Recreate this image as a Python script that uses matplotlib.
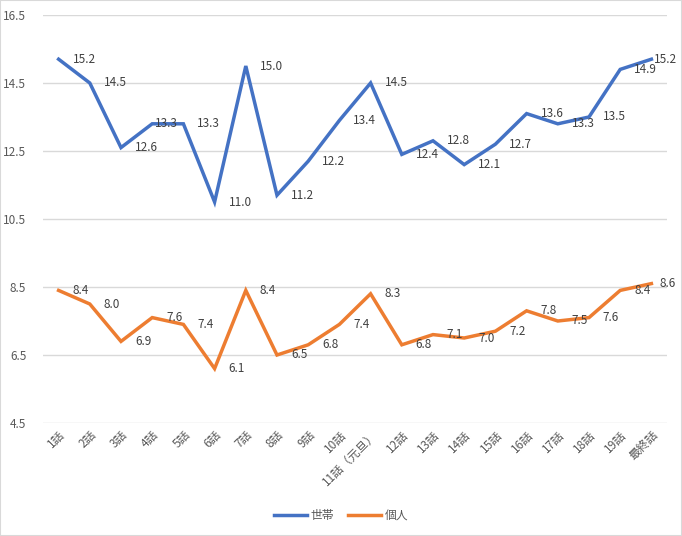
import matplotlib.pyplot as plt
from matplotlib.patches import Rectangle

plt.rcParams['font.family'] = ['Noto Sans CJK JP', 'DejaVu Sans']

episodes = ["1話", "2話", "3話", "4話", "5話", "6話", "7話", "8話", "9話", "10話",
            "11話（元旦）", "12話", "13話", "14話", "15話", "16話", "17話", "18話", "19話", "最終話"]
household = [15.2, 14.5, 12.6, 13.3, 13.3, 11.0, 15.0, 11.2, 12.2, 13.4,
             14.5, 12.4, 12.8, 12.1, 12.7, 13.6, 13.3, 13.5, 14.9, 15.2]
individual = [8.4, 8.0, 6.9, 7.6, 7.4, 6.1, 8.4, 6.5, 6.8, 7.4,
              8.3, 6.8, 7.1, 7.0, 7.2, 7.8, 7.5, 7.6, 8.4, 8.6]
yticks = [4.5, 6.5, 8.5, 10.5, 12.5, 14.5, 16.5]

blue = "#4472C4"
orange = "#ED7D31"
gray = "#595959"

fig = plt.figure(figsize=(6.82, 5.36), dpi=100)
ax = fig.add_axes([43 / 682, 1 - 423 / 536, 624 / 682, 408 / 536])

xs = list(range(len(episodes)))
ax.plot(xs, household, color=blue, lw=2.5, label="世帯", solid_joinstyle="miter")
ax.plot(xs, individual, color=orange, lw=2.5, label="個人", solid_joinstyle="miter")

last = len(episodes) - 1
for x, v in zip(xs, household):
    dx = 2 if x in (3, last) else 10
    ax.annotate(f"{v:.1f}", (x, v), xytext=(dx, 0), textcoords="offset points",
                ha="left", va="center", fontsize=8.5, color="#404040")
for x, v in zip(xs, individual):
    dx = 6 if x == last else 10
    ax.annotate(f"{v:.1f}", (x, v), xytext=(dx, 0), textcoords="offset points",
                ha="left", va="center", fontsize=8.5, color="#404040")

ax.set_xlim(-0.5, len(episodes) - 0.5)
ax.set_ylim(4.5, 16.5)
ax.set_yticks(yticks)
ax.set_yticklabels([f"{t:.1f}" for t in yticks])
ax.set_xticks(xs)
ax.set_xticklabels(episodes, rotation=45, ha="right", va="top", rotation_mode="anchor")
ax.tick_params(axis="both", length=0, colors=gray, labelsize=8.5)
ax.tick_params(axis="y", pad=12)
ax.tick_params(axis="x", pad=4)
ax.grid(axis="y", color="#d9d9d9", lw=1)
ax.set_axisbelow(True)
for s in ax.spines.values():
    s.set_visible(False)

leg = fig.legend(loc="center", bbox_to_anchor=(0.5, 1 - 516 / 536), ncol=2, frameon=False,
                 fontsize=8.5, handlelength=2.8, columnspacing=1.2, handletextpad=0.3)
for t in leg.get_texts():
    t.set_color(gray)

fig.patches.append(Rectangle((0, 0), 1, 1, transform=fig.transFigure, fill=False,
                             edgecolor="#d9d9d9", lw=1.5))

fig.savefig("out.png", dpi=100)
